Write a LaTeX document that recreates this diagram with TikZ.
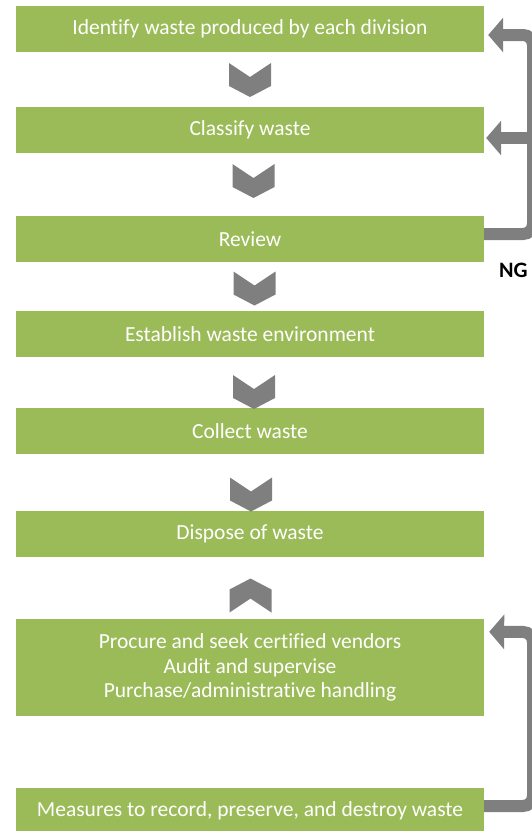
\documentclass[tikz,border=0pt]{standalone}
\usepackage{fontspec}
\setmainfont{Carlito}[Ligatures=NoCommon]
\usetikzlibrary{calc, arrows.meta}
\definecolor{stepgreen}{HTML}{9BBB59}
\definecolor{arrowgray}{HTML}{7F7F7F}
\tikzset{
  stepbox/.style={
    fill=stepgreen, text=white, inner sep=0pt,
    minimum width=468pt, minimum height=46pt,
    align=center, font=\fontsize{21.5}{24.5}\selectfont
  },
  loopback/.style={
    draw=arrowgray, line width=12pt, rounded corners=10pt,
    -{Triangle[width=34pt, length=15pt]}
  },
  chevdown/.pic={
    \fill[arrowgray] (-21,-17) -- (0,-3) -- (21,-17) -- (21,6) -- (0,17) -- (-21,6) -- cycle;
  },
  chevup/.pic={
    \fill[arrowgray] (-21,17) -- (0,3) -- (21,17) -- (21,-6) -- (0,-17) -- (-21,-6) -- cycle;
  }
}

\begin{document}
\begin{tikzpicture}[x=1pt, y=-1pt]
  \useasboundingbox (0,0) rectangle (532,831);
  \clip (0,0) rectangle (532,831);

  % ── Steps ─────────────────────────────────────────────────────────
  \node[stepbox] (identify) at (250, 29)  {Identify waste produced by each division};
  \node[stepbox] (classify) at (250, 130) {Classify waste};
  \node[stepbox] (review)   at (250, 239) {Review};
  \node[stepbox] (environ)  at (250, 334) {Establish waste environment};
  \node[stepbox] (collect)  at (250, 431) {Collect waste};
  \node[stepbox] (dispose)  at (250, 534) {Dispose of waste};
  \node[stepbox, minimum height=97pt] (procure) at (250, 667.5)
    {Procure and seek certified vendors\\Audit and supervise\\Purchase/administrative handling};
  \node[stepbox] (measures) at (250, 811) {Measures to record, preserve, and destroy waste};

  % ── Chevrons between steps ────────────────────────────────────────
  \foreach \cx/\cy in {250/80, 253.5/181, 254.5/288.5, 254/392, 251/494.5}
    { \pic at (\cx,\cy) {chevdown}; }
  \pic at (250.5,595.5) {chevup};

  % ── NG loop back ──────────────────────────────────────────────────
  \coordinate (ngbottom) at (533, 234);
  \coordinate (ngtop)    at (533, 35);
  \coordinate (ngmid)    at (533, 138);
  \draw[loopback] ($(review.east)+(0,-5)$) -- (ngbottom) -- (ngtop)
                  -- ($(identify.east)+(4,6)$);
  \draw[loopback] (ngmid) -- ($(classify.east)+(2,8)$);
  \node[font=\fontsize{22}{24}\selectfont\bfseries, anchor=west, inner sep=0pt] (ng) at (499, 270) {NG};

  % ── Record loop back ──────────────────────────────────────────────
  \coordinate (recbottom) at (533, 806);
  \coordinate (rectop)    at (533, 632);
  \draw[loopback] ($(measures.east)+(0,-5)$) -- (recbottom) -- (rectop)
                  -- ($(procure.north east)+(5,13)$);
\end{tikzpicture}
\end{document}
